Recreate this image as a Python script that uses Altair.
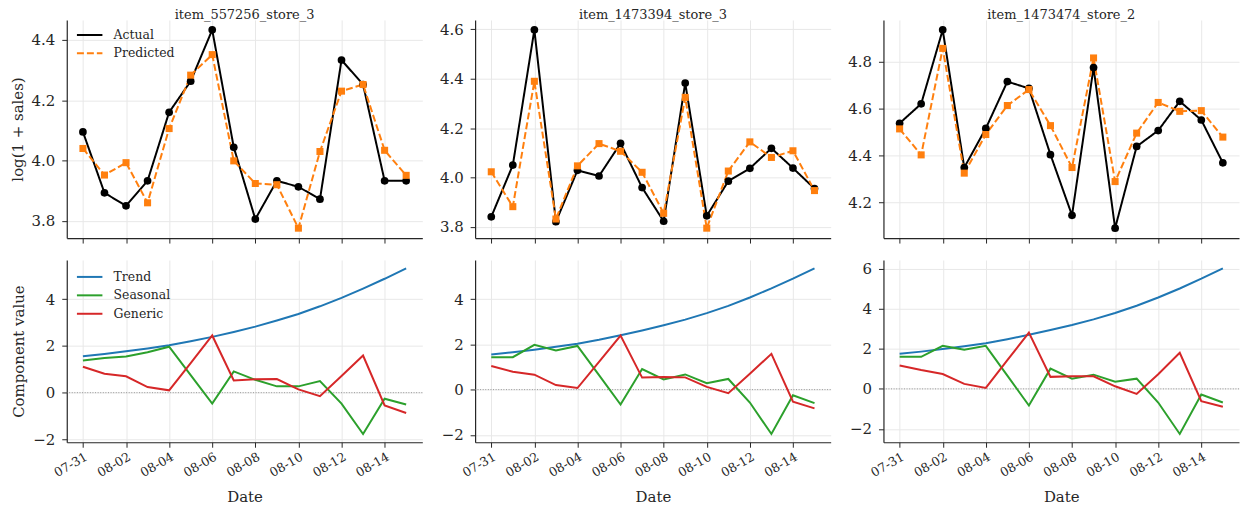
import altair as alt
import pandas as pd

FONT = "DejaVu Serif"

dates = ["2017-07-31", "2017-08-01", "2017-08-02", "2017-08-03", "2017-08-04",
         "2017-08-05", "2017-08-06", "2017-08-07", "2017-08-08", "2017-08-09",
         "2017-08-10", "2017-08-11", "2017-08-12", "2017-08-13", "2017-08-14",
         "2017-08-15"]
tick_dates = ["2017-07-31", "2017-08-02", "2017-08-04", "2017-08-06",
              "2017-08-08", "2017-08-10", "2017-08-12", "2017-08-14"]

titles = ["item_557256_store_3", "item_1473394_store_3", "item_1473474_store_2"]

actual_1 = [4.095, 3.893, 3.850, 3.933, 4.160, 4.263, 4.433, 4.044, 3.806, 3.933, 3.913, 3.872, 4.333, 4.252, 3.933, 3.933]
pred_1 = [4.040, 3.952, 3.993, 3.860, 4.106, 4.283, 4.351, 3.999, 3.924, 3.920, 3.776, 4.030, 4.230, 4.252, 4.034, 3.951]
actual_2 = [3.841, 4.050, 4.597, 3.821, 4.029, 4.006, 4.138, 3.959, 3.823, 4.382, 3.845, 3.985, 4.037, 4.118, 4.038, 3.955]
pred_2 = [4.023, 3.882, 4.389, 3.832, 4.047, 4.137, 4.106, 4.021, 3.855, 4.324, 3.795, 4.026, 4.144, 4.081, 4.108, 3.947]
actual_3 = [4.538, 4.621, 4.937, 4.349, 4.516, 4.716, 4.687, 4.404, 4.145, 4.776, 4.090, 4.439, 4.507, 4.632, 4.552, 4.369]
pred_3 = [4.514, 4.403, 4.858, 4.325, 4.490, 4.614, 4.682, 4.528, 4.349, 4.817, 4.289, 4.496, 4.627, 4.589, 4.592, 4.479]

trend_1 = [1.56, 1.66, 1.77, 1.89, 2.03, 2.20, 2.39, 2.60, 2.83, 3.09, 3.37, 3.70, 4.06, 4.46, 4.88, 5.33]
seasonal_1 = [1.38, 1.49, 1.55, 1.73, 1.97, 0.75, -0.47, 0.91, 0.55, 0.27, 0.27, 0.50, -0.47, -1.77, -0.26, -0.51]
generic_1 = [1.11, 0.81, 0.70, 0.24, 0.10, 1.27, 2.45, 0.52, 0.57, 0.58, 0.14, -0.15, 0.71, 1.59, -0.55, -0.87]

trend_2 = [1.55, 1.65, 1.76, 1.89, 2.03, 2.20, 2.40, 2.61, 2.84, 3.09, 3.38, 3.70, 4.07, 4.47, 4.90, 5.36]
seasonal_2 = [1.43, 1.43, 1.98, 1.73, 1.93, 0.64, -0.66, 0.91, 0.45, 0.67, 0.28, 0.47, -0.57, -1.96, -0.25, -0.60]
generic_2 = [1.04, 0.79, 0.66, 0.20, 0.07, 1.23, 2.39, 0.53, 0.56, 0.54, 0.12, -0.16, 0.70, 1.58, -0.53, -0.83]

trend_3 = [1.75, 1.86, 1.99, 2.13, 2.28, 2.48, 2.70, 2.94, 3.19, 3.47, 3.79, 4.15, 4.56, 5.01, 5.50, 6.02]
seasonal_3 = [1.60, 1.60, 2.15, 1.95, 2.15, 0.66, -0.83, 1.01, 0.51, 0.71, 0.36, 0.51, -0.68, -2.25, -0.28, -0.68]
generic_3 = [1.17, 0.94, 0.74, 0.25, 0.05, 1.43, 2.81, 0.60, 0.63, 0.63, 0.13, -0.25, 0.73, 1.80, -0.61, -0.89]

top_ticks = [[3.8, 4.0, 4.2, 4.4], [3.8, 4.0, 4.2, 4.4, 4.6], [4.2, 4.4, 4.6, 4.8]]
bottom_ticks = [[-2, 0, 2, 4], [-2, 0, 2, 4], [-2, 0, 2, 4, 6]]

pred_series = ["Actual", "Predicted"]
pred_colors = ["#000000", "#ff7f0e"]
comp_series = ["Trend", "Seasonal", "Generic"]
comp_colors = ["#1f77b4", "#2ca02c", "#d62728"]

W = 357
H_TOP = 219
H_BOT = 183


def dt(s, hours=0):
    y, m, d = (int(v) for v in s.split("-"))
    return alt.DateTime(year=y, month=m, date=d, hours=hours, utc=True)


x_domain = [dt("2017-07-30", 6), dt("2017-08-15", 18)]
x_scale = alt.Scale(type="utc", domain=x_domain, nice=False)
tick_values = [dt(s) for s in tick_dates]


def padded(values):
    lo, hi = min(values), max(values)
    m = 0.05 * (hi - lo)
    return [lo - m, hi + m]


def make_legend(ly):
    return alt.Legend(title=None, orient="none", legendX=14, legendY=ly,
                      symbolType="M-1.6,0H1.6", symbolSize=256, symbolStrokeWidth=2,
                      labelFont=FONT, labelFontSize=12.5, labelColor="#262626",
                      labelOffset=15, rowPadding=2.5, padding=0)


def top_panel(idx, actual, pred):
    df = pd.DataFrame({
        "date": dates * 2,
        "value": actual + pred,
        "series": [pred_series[0]] * len(dates) + [pred_series[1]] * len(dates),
    })
    x = alt.X("date:T", scale=x_scale,
              axis=alt.Axis(values=tick_values, labels=False, title=None, grid=True))
    y = alt.Y("value:Q",
              scale=alt.Scale(domain=padded(actual + pred), nice=False, zero=False),
              axis=alt.Axis(values=top_ticks[idx], format=".1f",
                            title="log(1 + sales)" if idx == 0 else None))
    legend = make_legend(6) if idx == 0 else None
    color = alt.Color("series:N", scale=alt.Scale(domain=pred_series, range=pred_colors),
                      legend=legend)
    dash = alt.StrokeDash("series:N",
                          scale=alt.Scale(domain=pred_series, range=[[1, 0], [7, 3]]),
                          legend=legend)
    base = alt.Chart(df)
    lines = base.mark_line(strokeWidth=2).encode(x=x, y=y, color=color, strokeDash=dash)
    pts_actual = base.transform_filter(alt.datum.series == pred_series[0]).mark_point(
        shape="circle", filled=True, size=60, opacity=1, color=pred_colors[0]
    ).encode(x=x, y=y)
    pts_pred = base.transform_filter(alt.datum.series == pred_series[1]).mark_point(
        shape="square", filled=True, size=50, opacity=1, color=pred_colors[1]
    ).encode(x=x, y=y)
    return alt.layer(lines, pts_actual, pts_pred).properties(
        width=W, height=H_TOP,
        title=alt.TitleParams(titles[idx], anchor="middle", font=FONT, fontSize=13,
                              fontWeight="normal", color="#262626", offset=-2),
    )


def bottom_panel(idx, trend, seasonal, generic):
    n = len(dates)
    df = pd.DataFrame({
        "date": dates * 3,
        "value": trend + seasonal + generic,
        "series": [comp_series[0]] * n + [comp_series[1]] * n + [comp_series[2]] * n,
    })
    x = alt.X("date:T", scale=x_scale,
              axis=alt.Axis(values=tick_values, format="%m-%d", title="Date", grid=True,
                            labelAngle=-30, labelAlign="right", labelBaseline="top",
                            labelFontSize=12.5, labelPadding=3, titlePadding=11))
    y_dom = padded(trend + seasonal + generic)
    y = alt.Y("value:Q", scale=alt.Scale(domain=y_dom, nice=False, zero=False),
              axis=alt.Axis(values=bottom_ticks[idx], format="d",
                            title="Component value" if idx == 0 else None))
    legend = make_legend(8) if idx == 0 else None
    color = alt.Color("series:N", scale=alt.Scale(domain=comp_series, range=comp_colors),
                      legend=legend, sort=comp_series)
    lines = alt.Chart(df).mark_line(strokeWidth=2).encode(x=x, y=y, color=color)
    zero = alt.Chart(pd.DataFrame({"value": [0]})).mark_rule(
        color="#808080", strokeWidth=0.8, strokeDash=[1, 1.6]).encode(
        y=alt.Y("value:Q", scale=alt.Scale(domain=y_dom, nice=False, zero=False)))
    return alt.layer(zero, lines).properties(width=W, height=H_BOT)


panels = [
    top_panel(0, actual_1, pred_1),
    top_panel(1, actual_2, pred_2),
    top_panel(2, actual_3, pred_3),
    bottom_panel(0, trend_1, seasonal_1, generic_1),
    bottom_panel(1, trend_2, seasonal_2, generic_2),
    bottom_panel(2, trend_3, seasonal_3, generic_3),
]

chart = alt.concat(
    *panels, columns=3, bounds="flush", spacing={"row": 22, "column": 53}
).resolve_scale(
    x="independent", y="independent", color="independent",
    strokeDash="independent",
).properties(
    padding={"left": 2, "top": 0, "right": 2, "bottom": 0}
).configure_axis(
    labelFont=FONT, titleFont=FONT, labelFontSize=15, titleFontSize=15,
    labelColor="#262626", titleColor="#262626", titleFontWeight="normal",
    domainColor="#262626", tickColor="#262626", domainWidth=1.2, tickWidth=1,
    tickSize=5, gridColor="#e8e8e8", gridWidth=1, labelPadding=7, titlePadding=6,
).configure_view(stroke=None)

chart.save("out.html", embed_options={"renderer": "svg", "actions": False})
